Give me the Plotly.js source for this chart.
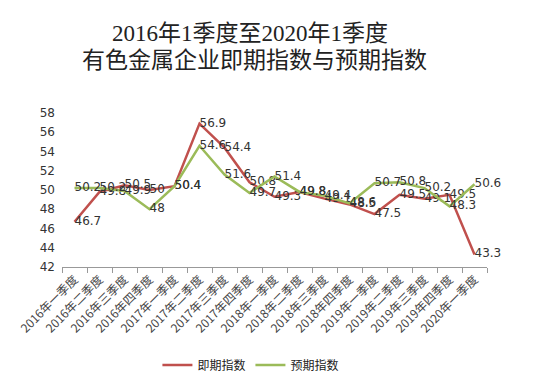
<!DOCTYPE html>
<html>
<head>
<meta charset="utf-8">
<script src="https://cdn.plot.ly/plotly-3.0.1.min.js"></script>
<style>html,body{margin:0;padding:0;background:#fff;}#chart{width:535px;height:385px;}</style>
</head>
<body>
<div id="chart"></div>
<script>
const categories = ["2016年一季度","2016年二季度","2016年三季度","2016年四季度",
  "2017年一季度","2017年二季度","2017年三季度","2017年四季度",
  "2018年一季度","2018年二季度","2018年三季度","2018年四季度",
  "2019年一季度","2019年二季度","2019年三季度","2019年四季度","2020年一季度"];
const currentIndex = [46.7, 49.8, 50.5, 50, 50.4, 56.9, 54.4, 50.8, 49.3, 49.8, 49.1, 48.5, 47.5, 49.5, 49.1, 49.5, 43.3];
const expectedIndex = [50.2, 50.2, 49.9, 48, 50.4, 54.6, 51.6, 49.7, 51.4, 49.8, 49.4, 48.6, 50.7, 50.8, 50.2, 48.3, 50.6];
const seriesNames = ["即期指数", "预期指数"];
const titleLines = ["2016年1季度至2020年1季度", "有色金属企业即期指数与预期指数"];
const yTicks = [42, 44, 46, 48, 50, 52, 54, 56, 58];

const labelFont = {family: "DejaVu Sans, Verdana, sans-serif", size: 12, color: "#333"};
function mk(y, name, color) {
  return {
    x: categories, y: y, name: name, type: "scatter", mode: "lines+text",
    text: y.map(v => String(v)), textposition: "middle right",
    textfont: labelFont, cliponaxis: false,
    line: {color: color, width: 2.5}
  };
}
const data = [mk(currentIndex, seriesNames[0], "#c0504d"), mk(expectedIndex, seriesNames[1], "#9bbb59")];
const titleFont = {family: "Liberation Serif, Noto Sans CJK SC, serif", size: 23, color: "#222"};
const layout = {
  width: 535, height: 385,
  margin: {l: 62, r: 48, t: 113, b: 118},
  paper_bgcolor: "#fff", plot_bgcolor: "rgba(0,0,0,0)",
  annotations: [
    {text: titleLines[0], xref: "paper", yref: "paper", x: 0.442, y: 1.519,
     xanchor: "center", yanchor: "middle", showarrow: false, font: titleFont},
    {text: titleLines[1], xref: "paper", yref: "paper", x: 0.452, y: 1.338,
     xanchor: "center", yanchor: "middle", showarrow: false, font: titleFont}
  ],
  xaxis: {
    type: "category", tickangle: -45, showgrid: false, zeroline: false,
    showline: true, linecolor: "#999", linewidth: 1,
    ticks: "outside", tickson: "boundaries", ticklen: 5, tickcolor: "#999",
    tickfont: {family: "Noto Sans CJK SC, sans-serif", size: 12, color: "#444"},
    range: [-0.5, 16.5]
  },
  yaxis: {
    range: [42, 58], tickvals: yTicks, showgrid: false, zeroline: false,
    showline: false, ticks: "", ticklabelstandoff: 6,
    tickfont: {family: "DejaVu Sans, Verdana, sans-serif", size: 12, color: "#333"}
  },
  showlegend: true,
  legend: {
    orientation: "h", xref: "container", yref: "container",
    x: 0.469, xanchor: "center", y: 0.052, yanchor: "middle",
    font: {family: "Noto Sans CJK SC, sans-serif", size: 12, color: "#222"},
    itemwidth: 30, traceorder: "normal"
  }
};
Plotly.newPlot("chart", data, layout, {displayModeBar: false, staticPlot: true});
</script>
</body>
</html>
